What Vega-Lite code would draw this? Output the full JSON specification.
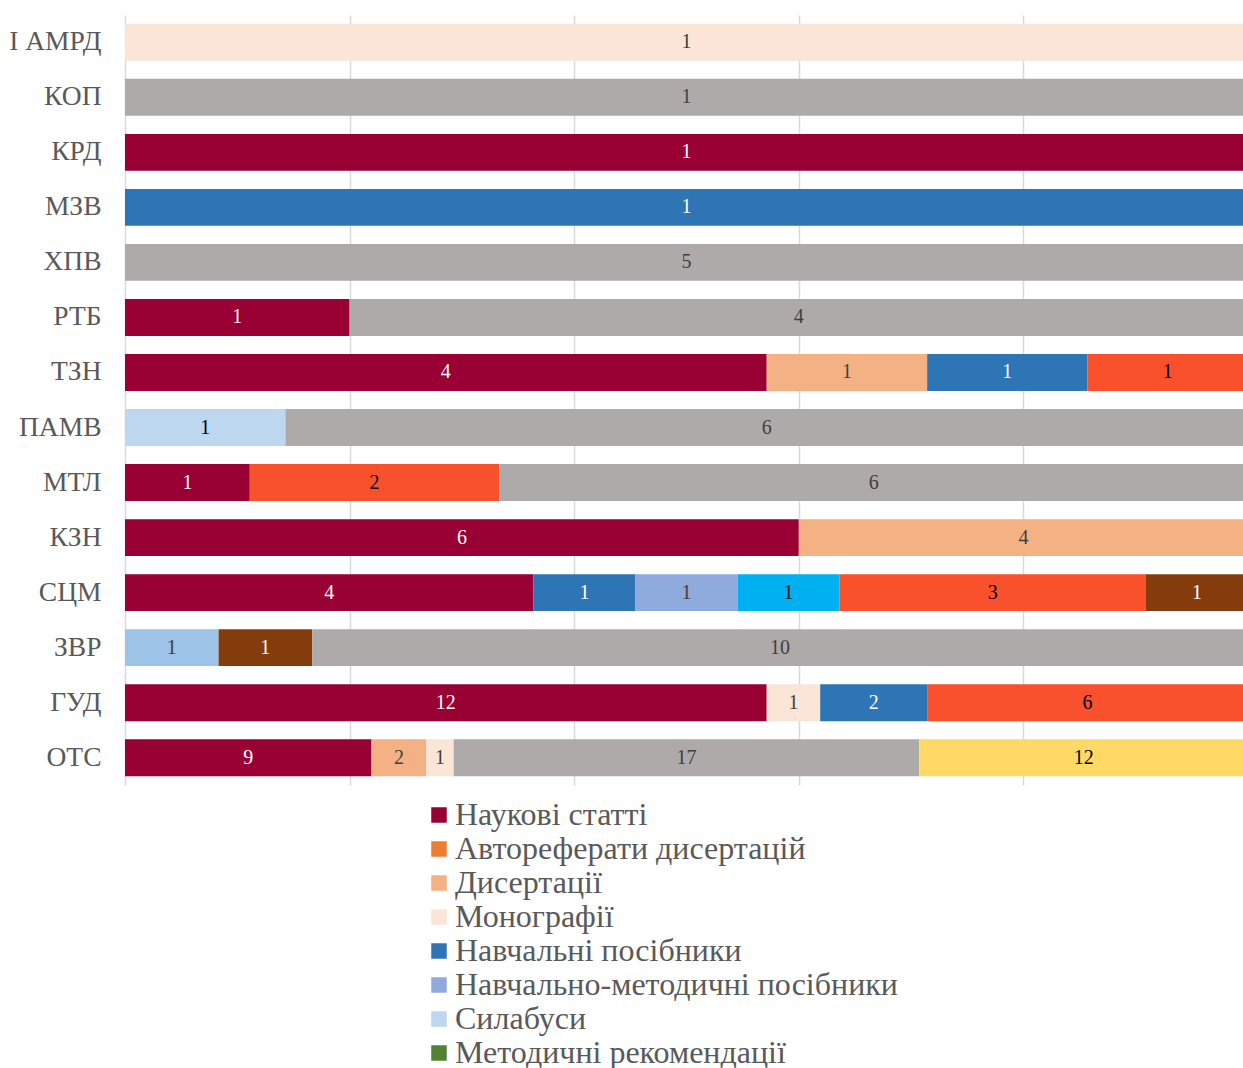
{
  "$schema": "https://vega.github.io/schema/vega-lite/v6.json",
  "width": 1118,
  "height": 770,
  "autosize": {"type": "none"},
  "padding": {"left": 125, "top": 15, "right": 0, "bottom": 283},
  "background": "white",
  "config": {"view": {"stroke": null}, "font": "Liberation Serif"},
  "data": {
    "values": [
      {"g": "I АМРД", "s": "Монографії", "n": 1},
      {"g": "КОП", "s": "Інші видання", "n": 1},
      {"g": "КРД", "s": "Наукові статті", "n": 1},
      {"g": "МЗВ", "s": "Навчальні посібники", "n": 1},
      {"g": "ХПВ", "s": "Інші видання", "n": 5},
      {"g": "РТБ", "s": "Наукові статті", "n": 1},
      {"g": "РТБ", "s": "Інші видання", "n": 4},
      {"g": "ТЗН", "s": "Наукові статті", "n": 4},
      {"g": "ТЗН", "s": "Дисертації", "n": 1},
      {"g": "ТЗН", "s": "Навчальні посібники", "n": 1},
      {"g": "ТЗН", "s": "Тези доповідей", "n": 1},
      {"g": "ПАМВ", "s": "Силабуси", "n": 1},
      {"g": "ПАМВ", "s": "Інші видання", "n": 6},
      {"g": "МТЛ", "s": "Наукові статті", "n": 1},
      {"g": "МТЛ", "s": "Тези доповідей", "n": 2},
      {"g": "МТЛ", "s": "Інші видання", "n": 6},
      {"g": "КЗН", "s": "Наукові статті", "n": 6},
      {"g": "КЗН", "s": "Дисертації", "n": 4},
      {"g": "СЦМ", "s": "Наукові статті", "n": 4},
      {"g": "СЦМ", "s": "Навчальні посібники", "n": 1},
      {"g": "СЦМ", "s": "Навчально-методичні посібники", "n": 1},
      {"g": "СЦМ", "s": "Електронні курси", "n": 1},
      {"g": "СЦМ", "s": "Тези доповідей", "n": 3},
      {"g": "СЦМ", "s": "Патенти", "n": 1},
      {"g": "ЗВР", "s": "Робочі програми", "n": 1},
      {"g": "ЗВР", "s": "Патенти", "n": 1},
      {"g": "ЗВР", "s": "Інші видання", "n": 10},
      {"g": "ГУД", "s": "Наукові статті", "n": 12},
      {"g": "ГУД", "s": "Монографії", "n": 1},
      {"g": "ГУД", "s": "Навчальні посібники", "n": 2},
      {"g": "ГУД", "s": "Тези доповідей", "n": 6},
      {"g": "ОТС", "s": "Наукові статті", "n": 9},
      {"g": "ОТС", "s": "Дисертації", "n": 2},
      {"g": "ОТС", "s": "Монографії", "n": 1},
      {"g": "ОТС", "s": "Інші видання", "n": 17},
      {"g": "ОТС", "s": "Матеріали конференцій", "n": 12}
    ]
  },
  "transform": [
    {"stack": "n", "groupby": ["g"], "offset": "normalize", "as": ["x0", "x1"]},
    {"calculate": "(datum.x0 + datum.x1) / 2", "as": "xm"}
  ],
  "encoding": {
    "y": {
      "field": "g",
      "type": "nominal",
      "sort": ["I АМРД", "КОП", "КРД", "МЗВ", "ХПВ", "РТБ", "ТЗН", "ПАМВ", "МТЛ", "КЗН", "СЦМ", "ЗВР", "ГУД", "ОТС"],
      "scale": {"paddingInner": 0.33, "paddingOuter": 0.16},
      "axis": {
        "title": null,
        "ticks": false,
        "domain": false,
        "labelFontSize": 27.5,
        "labelColor": "#595959",
        "labelPadding": 24,
        "labelFont": "Liberation Serif"
      }
    }
  },
  "layer": [
    {
      "mark": {"type": "bar", "clip": true},
      "encoding": {
        "x": {
          "field": "x0",
          "type": "quantitative",
          "scale": {"domain": [0, 0.99555], "nice": false, "zero": true},
          "axis": {
            "title": null,
            "labels": false,
            "ticks": false,
            "domain": false,
            "grid": true,
            "values": [0, 0.2, 0.4, 0.6, 0.8],
            "gridColor": "#d9d9d9",
            "gridWidth": 1.5
          }
        },
        "x2": {"field": "x1"},
        "color": {
          "field": "s",
          "type": "nominal",
          "scale": {
            "domain": ["Наукові статті", "Автореферати дисертацій", "Дисертації", "Монографії", "Навчальні посібники", "Навчально-методичні посібники", "Силабуси", "Методичні рекомендації", "Електронні курси", "Робочі програми", "Тези доповідей", "Патенти", "Інші видання", "Матеріали конференцій"],
            "range": ["#990033", "#ED7D31", "#F4B183", "#FBE5D6", "#2E75B6", "#8FAADC", "#BDD7EE", "#548235", "#00B0F0", "#9DC3E6", "#F9512B", "#843C0C", "#AEAAAA", "#FFD966"]
          },
          "legend": {
            "title": null,
            "orient": "none",
            "legendX": 298,
            "legendY": 784,
            "direction": "vertical",
            "padding": 0,
            "values": ["Наукові статті", "Автореферати дисертацій", "Дисертації", "Монографії", "Навчальні посібники", "Навчально-методичні посібники", "Силабуси", "Методичні рекомендації"],
            "symbolType": "square",
            "symbolSize": 240,
            "symbolStrokeWidth": 0,
            "labelFontSize": 32,
            "labelColor": "#595959",
            "labelFont": "Liberation Serif",
            "labelOffset": 0,
            "rowPadding": 2,
            "labelLimit": 900
          }
        }
      }
    },
    {
      "mark": {"type": "text", "fontSize": 20, "font": "Liberation Serif", "baseline": "middle", "align": "center"},
      "encoding": {
        "x": {"field": "xm", "type": "quantitative"},
        "text": {"field": "n", "type": "quantitative"},
        "color": {
          "field": "s",
          "type": "nominal",
          "scale": {
            "domain": ["Наукові статті", "Автореферати дисертацій", "Дисертації", "Монографії", "Навчальні посібники", "Навчально-методичні посібники", "Силабуси", "Методичні рекомендації", "Електронні курси", "Робочі програми", "Тези доповідей", "Патенти", "Інші видання", "Матеріали конференцій"],
            "range": ["#ffffff", "#404040", "#404040", "#404040", "#ffffff", "#404040", "#000000", "#ffffff", "#1a1a1a", "#404040", "#000000", "#ffffff", "#404040", "#000000"]
          },
          "legend": null
        }
      }
    }
  ],
  "resolve": {"scale": {"color": "independent"}, "legend": {"color": "independent"}}
}
